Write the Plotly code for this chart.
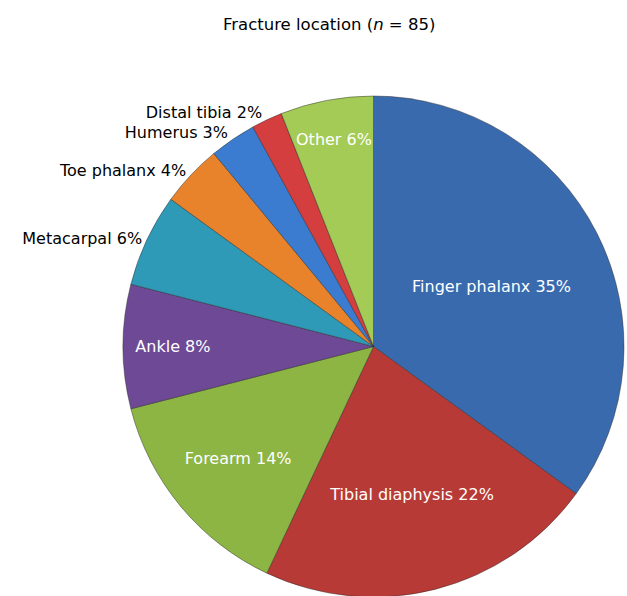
import plotly.graph_objects as go

labels = ["Finger phalanx", "Tibial diaphysis", "Forearm", "Ankle", "Metacarpal",
          "Toe phalanx", "Humerus", "Distal tibia", "Other"]
values = [35, 22, 14, 8, 6, 4, 3, 2, 6]
colors = ["#3A6AAE", "#B83A37", "#8DB543", "#6E4A96", "#2E9AB8",
          "#E8832C", "#3B7CD0", "#D43E3E", "#A4CB55"]
positions = ["inside", "inside", "inside", "inside", "outside",
             "outside", "outside", "outside", "inside"]
font_colors = ["white" if p == "inside" else "black" for p in positions]

fig = go.Figure(go.Pie(
    labels=labels,
    values=values,
    sort=False,
    direction="clockwise",
    rotation=0,
    marker=dict(colors=colors, line=dict(color="rgba(40,40,40,0.45)", width=1)),
    texttemplate="%{label} %{value}%",
    textposition=positions,
    insidetextorientation="horizontal",
    textfont=dict(family="DejaVu Sans", size=16, color=font_colors),
    hoverinfo="label+value",
    showlegend=False,
))

L, T, S = 123, 96, 506
fig.update_layout(
    autosize=False,
    width=L + S, height=T + S,
    margin=dict(l=L, r=0, t=T, b=0),
    paper_bgcolor="white",
    font=dict(family="DejaVu Sans", size=16, color="black"),
    annotations=[dict(
        text="Fracture location (<i>n</i> = 85)",
        xref="paper", yref="paper",
        x=(331 - L) / S, y=1 + (T - 24) / S,
        xanchor="center", yanchor="middle",
        showarrow=False,
        font=dict(family="DejaVu Sans", size=16.5, color="black"),
    )],
    uniformtext=dict(minsize=16, mode="show"),
)

fig.write_html(
    "out.html",
    config={"displayModeBar": False, "responsive": False},
    default_width=f"{L + S}px", default_height=f"{T + S}px",
    post_script="document.body.style.overflow='hidden';document.documentElement.style.overflow='hidden';document.body.style.margin='0';",
)
